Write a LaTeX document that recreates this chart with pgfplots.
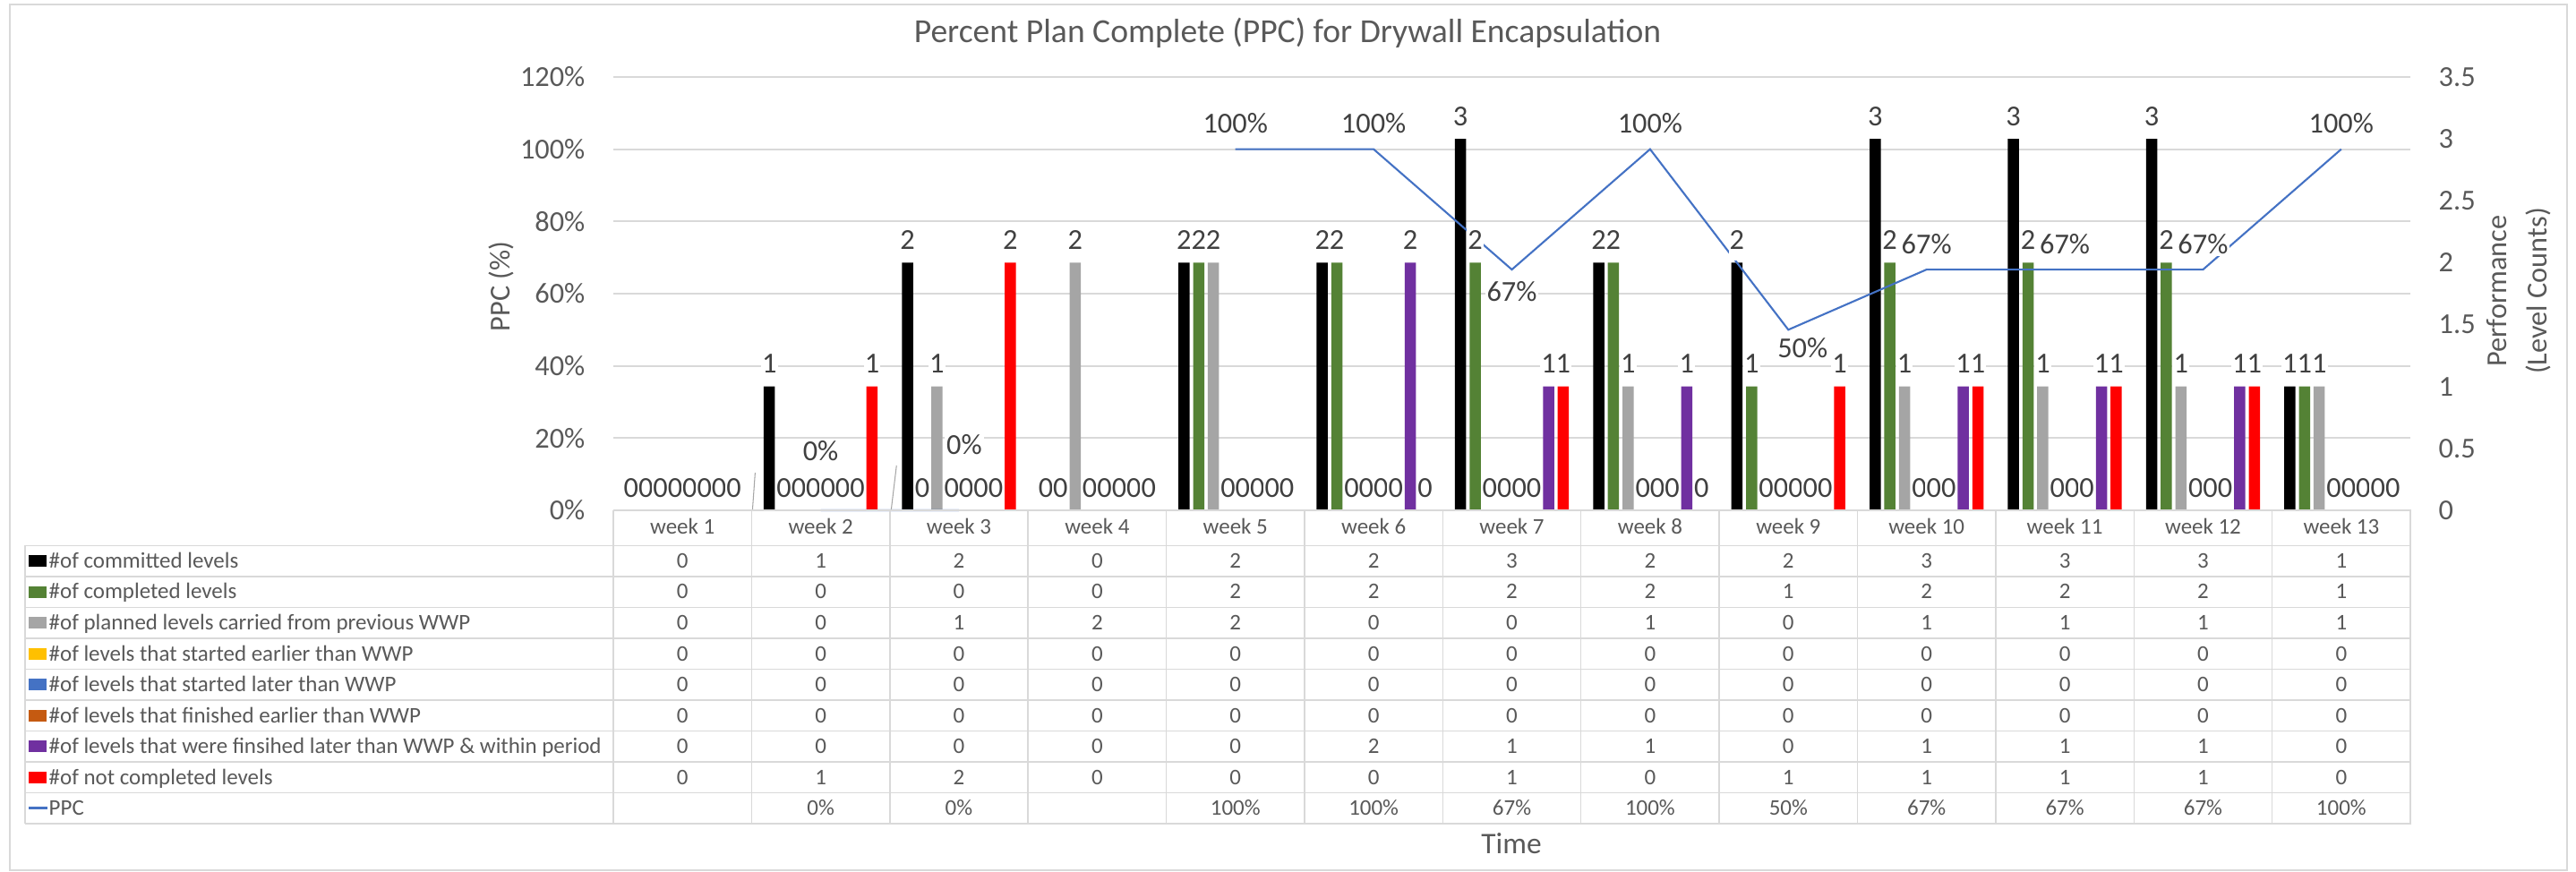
\documentclass[border=0pt]{standalone}
\usepackage{pgfplots}
\usepackage{pgfplotstable}
\pgfplotsset{compat=1.18}
\usepackage{fontspec}
\setmainfont{Carlito}
\definecolor{txt}{HTML}{595959}
\definecolor{lbl}{HTML}{404040}
\definecolor{gridc}{HTML}{D9D9D9}
\definecolor{leadc}{HTML}{A6A6A6}
\definecolor{cBlack}{HTML}{000000}
\definecolor{cGreen}{HTML}{548235}
\definecolor{cGray}{HTML}{A5A5A5}
\definecolor{cYellow}{HTML}{FFC000}
\definecolor{cBlue}{HTML}{4472C4}
\definecolor{cOrange}{HTML}{C55A11}
\definecolor{cPurple}{HTML}{7030A0}
\definecolor{cRed}{HTML}{FF0000}
\definecolor{cLine}{HTML}{4472C4}
\newcommand{\tickfont}{\fontsize{9.2pt}{11pt}\selectfont}
\newcommand{\tabfont}{\fontsize{7.1pt}{8.5pt}\selectfont}
\newcommand{\titlefont}{\fontsize{10.7pt}{13pt}\selectfont}
\newcommand{\axfont}{\fontsize{9.2pt}{12.8pt}\selectfont}

\pgfplotstableread{
wk committed completed carried sEarly sLate fEarly fLate notdone
1 0 0 0 0 0 0 0 0
2 1 0 0 0 0 0 0 1
3 2 0 1 0 0 0 0 2
4 0 0 2 0 0 0 0 0
5 2 2 2 0 0 0 0 0
6 2 2 0 0 0 0 2 0
7 3 2 0 0 0 0 1 1
8 2 2 1 0 0 0 1 0
9 2 1 0 0 0 0 0 1
10 3 2 1 0 0 0 1 1
11 3 2 1 0 0 0 1 1
12 3 2 1 0 0 0 1 1
13 1 1 1 0 0 0 0 0
}\levels

\pgfplotstableread{
wk ppc
1 nan
2 0
3 0
4 nan
5 100
6 100
7 66.67
8 100
9 50
10 66.67
11 66.67
12 66.67
13 100
}\ppctable

\pgfplotsset{
  myaxis/.style={scale only axis, width=200.7mm, height=48.4mm,
    at={(68.5mm,-57mm)}, anchor=south west, xmin=0.5, xmax=13.5,
    xtick=\empty, ytick=\empty, axis line style={draw=none},
    major tick length=0pt, clip=false},
  bars/.style n args={2}{ybar, bar width=0.081, bar shift=#1, draw=none, fill=#2},
  barlab/.style={ybar, bar width=0.081, bar shift=#1, draw=none, fill=none,
    point meta=y,
    nodes near coords={\pgfmathprintnumber[assume math mode=true]{\pgfplotspointmeta}},
    nodes near coords style={font=\tickfont, text=lbl, fill=white,
      inner xsep=0.12mm, inner ysep=0.2mm, text height=2.9mm, text depth=1.0mm,
      yshift=0.22mm, xshift=#1*15.4385mm}},
  pplab/.style n args={2}{draw=none, mark=none, point meta=y,
    nodes near coords={\pgfmathprintnumber[assume math mode=true,fixed,precision=0]{\pgfplotspointmeta}\%},
    nodes near coords style={font=\tickfont, text=lbl, fill=white, inner sep=0.2mm,
      anchor=south, yshift=#1*0.1mm-1.22mm, xshift=#2*0.1mm}},
}

\begin{document}
\begin{tikzpicture}
\path[use as bounding box] (0,0) rectangle (287.7mm,-97.4mm);

% gridlines + left ticks
\begin{axis}[myaxis, ymin=0, ymax=120,
  ytick={0,20,40,60,80,100,120},
  yticklabels={0\%,20\%,40\%,60\%,80\%,100\%,120\%},
  ymajorgrids, grid style={gridc, line width=0.2mm},
  yticklabel style={font=\tickfont, text=txt, inner sep=0pt, xshift=-3.1mm}]
\end{axis}

% bars + right ticks
\begin{axis}[myaxis, ymin=0, ymax=3.5,
  ytick={0,0.5,1,1.5,2,2.5,3,3.5},
  yticklabels={0,0.5,1,1.5,2,2.5,3,3.5},
  yticklabel pos=right,
  yticklabel style={font=\tickfont, text=txt, inner sep=0pt, anchor=west, xshift=3.1mm}]
\addplot[bars={-0.3717}{cBlack}]  table[x=wk, y=committed]{\levels};
\addplot[bars={-0.2655}{cGreen}]  table[x=wk, y=completed]{\levels};
\addplot[bars={-0.1593}{cGray}]   table[x=wk, y=carried]{\levels};
\addplot[bars={-0.0531}{cYellow}] table[x=wk, y=sEarly]{\levels};
\addplot[bars={0.0531}{cBlue}]    table[x=wk, y=sLate]{\levels};
\addplot[bars={0.1593}{cOrange}]  table[x=wk, y=fEarly]{\levels};
\addplot[bars={0.2655}{cPurple}]  table[x=wk, y=fLate]{\levels};
\addplot[bars={0.3717}{cRed}]     table[x=wk, y=notdone]{\levels};
\end{axis}

% PPC line
\begin{axis}[myaxis, ymin=0, ymax=120, unbounded coords=jump]
\addplot[cLine, line width=0.6pt, mark=none] table[x=wk, y=ppc]{\ppctable};
\end{axis}

% bar labels
\begin{axis}[myaxis, ymin=0, ymax=3.5]
\addplot[barlab=-0.3717] table[x=wk, y=committed]{\levels};
\addplot[barlab=-0.2655] table[x=wk, y=completed]{\levels};
\addplot[barlab=-0.1593] table[x=wk, y=carried]{\levels};
\addplot[barlab=-0.0531] table[x=wk, y=sEarly]{\levels};
\addplot[barlab=0.0531]  table[x=wk, y=sLate]{\levels};
\addplot[barlab=0.1593]  table[x=wk, y=fEarly]{\levels};
\addplot[barlab=0.2655]  table[x=wk, y=fLate]{\levels};
\addplot[barlab=0.3717]  table[x=wk, y=notdone]{\levels};
\end{axis}

% PPC labels
\begin{axis}[myaxis, ymin=0, ymax=120]
\draw[leadc, line width=0.3pt] (axis cs:2,0) ++(0.1mm,0) -- ++(0.3mm,4.2mm);
\draw[leadc, line width=0.3pt] (axis cs:3,0) ++(0.15mm,0) -- ++(0.6mm,5.0mm);
\addplot[pplab={27}{0}] coordinates {(5,100) (6,100) (8,100) (10,66.67) (11,66.67) (12,66.67) (13,100)};
\addplot[pplab={-26}{0}] coordinates {(7,66.67)};
\addplot[pplab={-22}{16}] coordinates {(9,50)};
\addplot[pplab={65}{0}] coordinates {(2,0)};
\addplot[pplab={72}{6}] coordinates {(3,0)};
\end{axis}

\begin{scope}[x=0.1mm, y=-0.1mm]
  % outer border
  \draw[gridc, line width=0.12mm] (11,5) rectangle (2867,972);
  % title
  \node[anchor=base, inner sep=0pt, font=\titlefont, text=txt] at (1438,48)
    {Percent Plan Complete (PPC) for Drywall Encapsulation};
  % axis titles
  \node[rotate=90, anchor=center, inner sep=0pt, font=\axfont, text=txt] at (560,320) {PPC (\%)};
  \node[rotate=90, anchor=center, inner sep=0pt, font=\axfont, text=txt, align=center]
    at (2813,325) {Performance\\(Level Counts)};
  \node[anchor=base, inner sep=0pt, font=\fontsize{9.5pt}{11pt}\selectfont, text=txt] at (1688,953) {Time};

  % table lines
  \tikzset{tbl/.style={gridc, line width=0.15mm},
           tcell/.style={anchor=base, inner sep=0pt, font=\tabfont, text=txt}}
  \draw[tbl] (685,570) -- (2693,570);
  \foreach \r in {0,...,9} \draw[tbl] (28,{609.3+34.5*\r}) -- (2693,{609.3+34.5*\r});
  \foreach \k in {0,...,13} \draw[tbl] ({685+154.385*\k},570) -- ({685+154.385*\k},919.8);
  \draw[tbl] (28,609.3) -- (28,919.8);

  % header
  \foreach \k in {1,...,13}
    \node[tcell] at ({685+154.385*\k-77.19},597) {week \k};

  % row labels with keys
  \foreach \c/\t [count=\r from 0] in {
      cBlack/{\#of committed levels},
      cGreen/{\#of completed levels},
      cGray/{\#of planned levels carried from previous WWP},
      cYellow/{\#of levels that started earlier than WWP},
      cBlue/{\#of levels that started later than WWP},
      cOrange/{\#of levels that finished earlier than WWP},
      cPurple/{\#of levels that were finsihed later than WWP \& within period},
      cRed/{\#of not completed levels}} {
    \fill[\c] (32,{626.55+34.5*\r-6.5}) rectangle ++(20,13);
    \node[tcell, anchor=base west] at (54,{634.5+34.5*\r}) {\t};
  }
  \draw[cLine, line width=0.25mm] (32,902.5) -- (53,902.5);
  \node[tcell, anchor=base west] at (54,910.5) {PPC};

  % values
  \foreach \col [count=\r from 0] in {committed,completed,carried,sEarly,sLate,fEarly,fLate,notdone} {
    \foreach \k in {0,...,12} {
      \pgfplotstablegetelem{\k}{\col}\of\levels
      \node[tcell] at ({685+154.385*\k+77.19},{634.5+34.5*\r}) {\pgfplotsretval};
    }
  }
  \foreach \k/\v in {2/0\%,3/0\%,5/100\%,6/100\%,7/67\%,8/100\%,9/50\%,10/67\%,11/67\%,12/67\%,13/100\%}
    \node[tcell] at ({685+154.385*\k-77.19},910.5) {\v};
\end{scope}
\end{tikzpicture}
\end{document}
